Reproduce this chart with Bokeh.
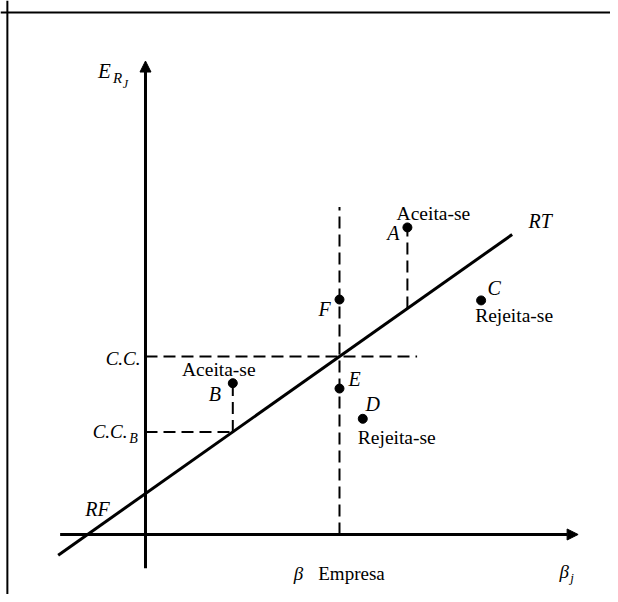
from bokeh.plotting import figure
from bokeh.models import Range1d, Span, Arrow, NormalHead, ColumnDataSource
from bokeh.core.properties import value
from bokeh.embed import file_html
from bokeh.resources import INLINE

# ---------------- data ----------------
RF = 0.23                 # risk-free return (intercept of RT)
SLOPE = 0.77              # slope of the market line RT
BETA_EMPRESA = 1.0        # beta of the firm
projects = ["A", "B", "C", "D", "E", "F"]
project_beta = [1.35, 0.45, 1.73, 1.12, 1.0, 1.0]
project_return = [1.725, 0.85, 1.315, 0.65, 0.82, 1.32]
decisions = ["Aceita-se", "Aceita-se", "Rejeita-se", "Rejeita-se", "", ""]
rt_beta_span = [-0.45, 1.89]      # drawn extent of the RT line
x_axis_span = [-0.44, 2.23]
y_axis_span = [-0.19, 2.66]
cc_dash_end = 1.40
empresa_dash_top = 1.84

FONT = value("Liberation Serif")

def rt(b):
    return RF + SLOPE * b

CC = rt(BETA_EMPRESA)
iA, iB = projects.index("A"), projects.index("B")
CC_B = rt(project_beta[iB])

p = figure(width=610, height=594, x_range=Range1d(-0.7474, 2.3969),
           y_range=Range1d(-0.3371, 3.0), output_backend="svg",
           toolbar_location=None, x_axis_type=None, y_axis_type=None,
           min_border=0, outline_line_color=None, background_fill_color="white")
p.xgrid.visible = False
p.ygrid.visible = False

# frame of the page (top and left edges)
p.add_layout(Span(location=2.933, dimension="width", line_color="black", line_width=2))
p.add_layout(Span(location=-0.712, dimension="height", line_color="black", line_width=2))

# axes with arrowheads
p.add_layout(Arrow(end=NormalHead(size=11, fill_color="black", line_color="black"),
                   x_start=x_axis_span[0], y_start=0, x_end=x_axis_span[1], y_end=0,
                   line_width=3, line_color="black"))
p.add_layout(Arrow(end=NormalHead(size=11, fill_color="black", line_color="black"),
                   x_start=0, y_start=y_axis_span[0], x_end=0, y_end=y_axis_span[1],
                   line_width=3, line_color="black"))

# market line RT
p.line(rt_beta_span, [rt(b) for b in rt_beta_span], line_width=3, line_color="black")

# dashed guides
bA, rA = project_beta[iA], project_return[iA]
bB, rB = project_beta[iB], project_return[iB]
dash = dict(line_color="black", line_width=2, line_dash="12 6")
p.segment(x0=[0, BETA_EMPRESA, 0, bB, bA],
          y0=[CC, 0, CC_B, CC_B, rt(bA)],
          x1=[cc_dash_end, BETA_EMPRESA, bB, bB, bA],
          y1=[CC, empresa_dash_top, CC_B, rB, rA], **dash)

# project points
p.scatter(project_beta, project_return, size=9, color="black")

# labels of the projects
letter_off = {"A": (-14, 6), "B": (-18, 11), "C": (13, -12), "D": (10, -15),
              "E": (15, -10), "F": (-15, 9)}
dec_off = {"A": (26, -14), "B": (-14, -14), "C": (33, 15), "D": (34, 19)}
src_l = ColumnDataSource(dict(x=project_beta, y=project_return, t=projects,
                              xo=[letter_off[k][0] for k in projects],
                              yo=[letter_off[k][1] for k in projects]))
p.text("x", "y", text="t", x_offset="xo", y_offset="yo", source=src_l,
       text_font=FONT, text_font_style="italic", text_font_size="20px",
       text_align="center", text_baseline="middle", text_color="black")
dx = [b for b, d in zip(project_beta, decisions) if d]
dy = [r for r, d in zip(project_return, decisions) if d]
dk = [k for k, d in zip(projects, decisions) if d]
dt = [d for d in decisions if d]
src_d = ColumnDataSource(dict(x=dx, y=dy, t=dt, xo=[dec_off[k][0] for k in dk],
                              yo=[dec_off[k][1] for k in dk]))
p.text("x", "y", text="t", x_offset="xo", y_offset="yo", source=src_d,
       text_font=FONT, text_font_size="19.5px", text_align="center",
       text_baseline="middle", text_color="black")

def label(x, y, t, xo, yo, size="20px", style="italic", align="center"):
    p.text(x=[x], y=[y], text=[t], x_offset=xo, y_offset=yo, text_font=FONT,
           text_font_style=style, text_font_size=size, text_align=align,
           text_baseline="middle", text_color="black")

# axis titles
label(0, y_axis_span[1], "E", -41, 10, size="21px")
label(0, y_axis_span[1], "R", -28, 17, size="15px")
label(0, y_axis_span[1], "J", -20, 23, size="12px")
label(x_axis_span[1], 0, "\u03b2", -14, 37, size="19px")
label(x_axis_span[1], 0, "j", -6, 43, size="13px")
label(BETA_EMPRESA, 0, "\u03b2", -41, 39, size="19px")
label(BETA_EMPRESA, 0, "Empresa", 12, 39, size="19px", style="normal")

# y-axis level labels
label(0, CC, "C.C.", -5, 2, size="19px", align="right")
label(0, CC_B, "C.C.", -18, 0, size="19px", align="right")
label(0, CC_B, "B", -12, 7, size="14px")
label(rt_beta_span[1], rt(rt_beta_span[1]), "RT", 28, -14)
label(0, RF, "RF", -48, 15)

open("out.html", "w").write(file_html(p, INLINE))
